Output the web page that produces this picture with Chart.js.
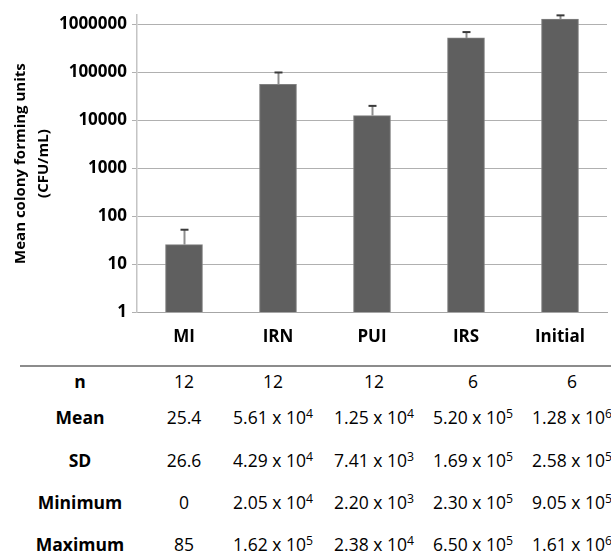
<!DOCTYPE html>
<html>
<head>
<meta charset="utf-8">
<script src="https://cdn.jsdelivr.net/npm/chart.js@4/dist/chart.umd.min.js"></script>
<style>
  html, body { margin: 0; padding: 0; background: #fff; }
  #wrap { position: relative; width: 611px; height: 558px; overflow: hidden; font-family: "Open Sans", sans-serif; }
  #chartBox { position: absolute; left: 0; top: 0; width: 611px; height: 350px; }
  .cell { position: absolute; transform: translate(-50%, -50%); white-space: nowrap; font-size: 17.5px; color: #000; line-height: 1; }
  .lab { font-weight: bold; }
  .cell sup { font-size: 0.7em; vertical-align: 0.5em; line-height: 0; }
  #rule { position: absolute; left: 20px; top: 365px; width: 591px; height: 2px; background: #8c8c8c; }
</style>
</head>
<body>
<div id="wrap">
  <div id="chartBox"><canvas id="c" width="611" height="350"></canvas></div>
  <div id="rule"></div>
  <div id="table"></div>
</div>
<script>
const categories = ['MI', 'IRN', 'PUI', 'IRS', 'Initial'];
const meanValues = [25.4, 56100, 12500, 520000, 1280000];
const sdValues   = [26.6, 42900, 7410, 169000, 258000];
const nValues    = [12, 12, 12, 6, 6];
const minValues  = [0, 20500, 2200, 230000, 905000];
const maxValues  = [85, 162000, 23800, 650000, 1610000];
const yTickValues = [1, 10, 100, 1000, 10000, 100000, 1000000];
const yTitle = ['Mean colony forming units', '(CFU/mL)'];
const rowLabels = ['n', 'Mean', 'SD', 'Minimum', 'Maximum'];

const errorBars = {
  id: 'errorBars',
  afterDatasetsDraw(chart) {
    const ctx = chart.ctx;
    const meta = chart.getDatasetMeta(0);
    const ys = chart.scales.y;
    ctx.save();
    meta.data.forEach((bar, i) => {
      const top = ys.getPixelForValue(meanValues[i] + sdValues[i]);
      const x = Math.round(bar.x) + 0.5;
      ctx.strokeStyle = '#8e8e8e';
      ctx.lineWidth = 2;
      ctx.beginPath();
      ctx.moveTo(x, bar.y);
      ctx.lineTo(x, top);
      ctx.stroke();
      ctx.strokeStyle = '#3a3a3a';
      ctx.beginPath();
      ctx.moveTo(x - 4, top);
      ctx.lineTo(x + 4, top);
      ctx.stroke();
    });
    ctx.restore();
  }
};

new Chart(document.getElementById('c'), {
  type: 'bar',
  data: {
    labels: categories,
    datasets: [{
      data: meanValues,
      backgroundColor: '#5f5f5f',
      borderColor: '#808080',
      borderWidth: 1,
      barThickness: 37
    }]
  },
  options: {
    responsive: false,
    animation: false,
    events: [],
    layout: { padding: { top: 10, right: 4, left: 0, bottom: 0 } },
    plugins: { legend: { display: false }, tooltip: { enabled: false } },
    scales: {
      x: {
        grid: { display: false, drawTicks: false },
        border: { display: true, color: '#a6a6a6', width: 1 },
        ticks: { color: '#000', padding: 15, font: { family: 'Open Sans', size: 17, weight: 'bold' } },
        afterFit(s) { s.height = 38; }
      },
      y: {
        type: 'logarithmic',
        min: 1,
        max: 1550000,
        afterBuildTicks(s) { s.ticks = yTickValues.map(v => ({ value: v })); },
        grid: { color: '#b0b0b0', lineWidth: 1, tickLength: 5, drawTicks: true },
        border: { display: true, color: '#c4c4c4', width: 1.5 },
        ticks: {
          color: '#000', padding: 5,
          font: { family: 'Open Sans', size: 17, weight: 'bold' },
          callback: v => String(v)
        },
        title: {
          display: true, text: yTitle, color: '#000',
          font: { family: 'Open Sans', size: 15, weight: 'bold', lineHeight: 1.55 },
          padding: { top: 9, bottom: 0 }
        },
        afterFit(s) { s.width = 137; }
      }
    }
  },
  plugins: [errorBars]
});

function fmt(v) {
  if (v < 1000) return String(v);
  const e = Math.floor(Math.log10(v));
  const m = (v / Math.pow(10, e)).toFixed(2);
  return m + ' x 10<sup>' + e + '</sup>';
}

const rows = [nValues.map(String), meanValues.map(fmt), sdValues.map(fmt), minValues.map(fmt), maxValues.map(fmt)];
const rowY = [382, 418, 461, 503, 545];
const colX = [184, 273, 374, 473, 572];
const labelX = 80;
const tbl = document.getElementById('table');
let html = '';
rowLabels.forEach((lab, r) => {
  html += '<div class="cell lab" style="left:' + labelX + 'px;top:' + rowY[r] + 'px">' + lab + '</div>';
  rows[r].forEach((t, c) => {
    html += '<div class="cell" style="left:' + colX[c] + 'px;top:' + rowY[r] + 'px">' + t + '</div>';
  });
});
tbl.innerHTML = html;
</script>
</body>
</html>
